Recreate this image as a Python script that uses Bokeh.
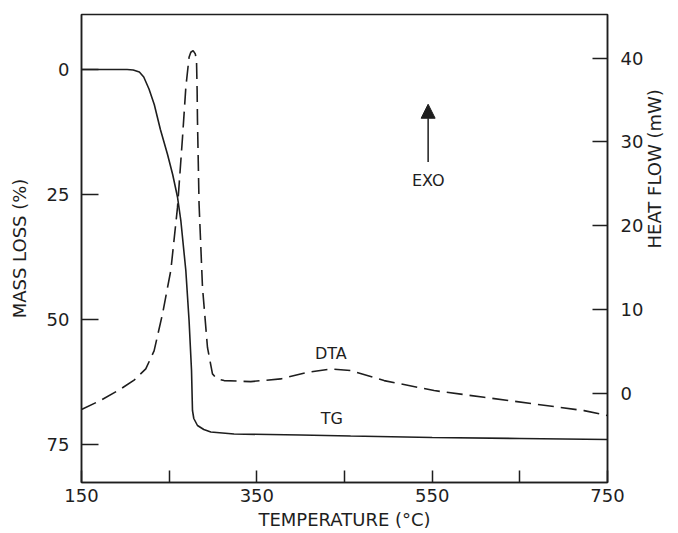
import math
from bokeh.plotting import figure
from bokeh.models import Range1d, LinearAxis, FixedTicker, Label, Arrow, NormalHead
from bokeh.embed import file_html
from bokeh.resources import INLINE

# ---- data ----
tg_temp = [150, 202, 209, 216, 221, 227, 233, 240, 248, 254, 259.5, 263.3, 269, 272.7,
           275.5, 276.6, 278.1, 282.3, 289.5, 297.5, 324, 400, 457, 550, 650, 750]
tg_loss = [0, 0, 0.1, 0.5, 1.5, 3.9, 7.0, 12.0, 16.9, 21.0, 25.5, 30.2, 40.2, 50.2,
           60.2, 68.2, 69.8, 71.2, 72.0, 72.5, 72.9, 73.1, 73.3, 73.6, 73.8, 74.0]

dta_temp = [150, 172, 194.8, 210, 223.3, 232.8, 242.4, 251.9, 259.5, 265.2, 269, 272.7,
            274.7, 277.3, 279.8, 281.2, 281.9, 282.3, 284.1, 288, 293.7, 299.4, 304.3,
            312.7, 343.1, 377.3, 407.8, 434.4, 457.2, 495.2, 552.2, 609.2, 666.3, 723.3, 750]
dta_hf = [-1.9, -0.8, 0.56, 1.6, 2.94, 5.1, 9.5, 14.7, 22.2, 30.5, 36.5, 40.1,
          40.7, 40.9, 40.5, 39.7, 36.1, 32.5, 22.6, 12.7, 5.5, 2.35, 1.79,
          1.55, 1.43, 1.75, 2.54, 2.94, 2.74, 1.55, 0.36, -0.44, -1.23, -2.03, -2.62]

x_major = [150, 350, 550, 750]
x_minor = [250, 450, 650]
left_ticks = [0, 25, 50, 75]
right_ticks = [0, 10, 20, 30, 40]

INK = "#1e1e1e"
FONT = "DejaVu Sans"

p = figure(width=678, height=533, output_backend="svg", toolbar_location=None,
           x_range=Range1d(150, 750), y_range=Range1d(82.6, -11),
           min_border_left=81, min_border_right=71, min_border_top=14, min_border_bottom=51)
p.extra_y_ranges = {"hf": Range1d(-10.6, 45.2)}
p.grid.visible = False
p.outline_line_color = INK
p.outline_line_width = 1.5
p.background_fill_color = "white"
p.border_fill_color = "white"

# x axis
xa = p.xaxis[0]
xa.ticker = FixedTicker(ticks=x_major, minor_ticks=x_minor)
xa.axis_label = "TEMPERATURE (°C)"

# left axis
ya = p.yaxis[0]
ya.ticker = FixedTicker(ticks=left_ticks)
ya.axis_label = "MASS LOSS (%)"

# right axis
ra = LinearAxis(y_range_name="hf", ticker=FixedTicker(ticks=right_ticks),
                axis_label="HEAT FLOW (mW)")
p.add_layout(ra, "right")

for ax, tin, stand in ((xa, 12, 6), (ya, 17, 12), (ra, 15, 13)):
    ax.axis_line_color = INK
    ax.axis_line_width = 1.5
    ax.major_tick_in = tin
    ax.major_tick_out = 0
    ax.minor_tick_in = tin
    ax.minor_tick_out = 0
    ax.major_tick_line_color = INK
    ax.major_tick_line_width = 1.5
    ax.minor_tick_line_color = INK
    ax.minor_tick_line_width = 1.5
    ax.major_label_standoff = stand
    ax.major_label_text_font = FONT
    ax.major_label_text_font_size = "18px"
    ax.major_label_text_color = INK
    ax.axis_label_text_font = FONT
    ax.axis_label_text_font_size = "18px"
    ax.axis_label_text_font_style = "normal"
    ax.axis_label_text_color = INK
ya.minor_tick_line_color = None
ra.minor_tick_line_color = None
xa.axis_label_standoff = 4
ya.axis_label_standoff = 14
ra.axis_label_standoff = 8
ra.axis_label_orientation = math.pi / 2

# curves
p.line(tg_temp, tg_loss, line_color=INK, line_width=1.6)
p.line(dta_temp, dta_hf, line_color=INK, line_width=1.6, line_dash="16 7",
       y_range_name="hf")

# annotations
p.add_layout(Label(x=434.4, y=4.8, y_range_name="hf", text="DTA", text_align="center",
                   text_baseline="middle", text_font=FONT, text_font_size="16px",
                   text_color=INK))
p.add_layout(Label(x=435.5, y=69.7, text="TG", text_align="center",
                   text_baseline="middle", text_font=FONT, text_font_size="16px",
                   text_color=INK))
p.add_layout(Label(x=545.6, y=25.4, y_range_name="hf", text="EXO", text_align="center",
                   text_baseline="middle", text_font=FONT, text_font_size="16px",
                   text_color=INK))
p.add_layout(Arrow(end=NormalHead(size=14, fill_color=INK, line_color=INK, line_width=1),
                   x_start=545.4, y_start=27.6, x_end=545.4, y_end=34.5,
                   y_range_name="hf", line_color=INK, line_width=1.5))

open("out.html", "w").write(file_html(p, INLINE))
